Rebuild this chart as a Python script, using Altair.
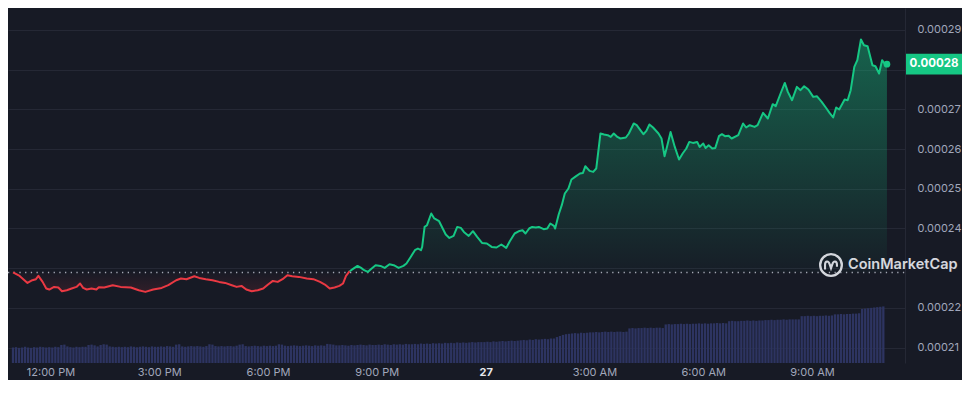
import altair as alt
import pandas as pd

START = "2024-04-26 10:58"

# price series: minutes after START, price (USD)
price_minutes = [
    0, 11, 24, 32, 38, 42, 49, 55, 60, 68, 75, 81, 89, 97, 105, 111, 116, 122, 130, 138,
    142, 151, 165, 178, 195, 208, 219, 232, 246, 257, 270, 278, 287, 300, 308, 319, 330, 341, 351, 362,
    370, 378, 386, 395, 405, 414, 422, 430, 438, 446, 454, 462, 473, 486, 497, 508, 516, 524, 532, 540,
    546, 551, 557, 562, 570, 576, 581, 587, 592, 600, 608, 615, 623, 630, 638, 646, 651, 658, 665, 670,
    675, 677, 681, 685, 692, 697, 705, 711, 716, 722, 729, 735, 741, 746, 754, 761, 768, 776, 784, 792,
    800, 808, 816, 822, 830, 838, 843, 848, 854, 859, 865, 870, 878, 884, 889, 895, 897, 903, 908, 913,
    919, 924, 930, 938, 943, 947, 954, 960, 965, 972, 978, 984, 989, 994, 1000, 1005, 1014, 1019, 1027, 1032,
    1038, 1043, 1048, 1053, 1059, 1068, 1073, 1078, 1082, 1088, 1095, 1102, 1108, 1114, 1119, 1125, 1132, 1136, 1142, 1146,
    1151, 1157, 1162, 1168, 1173, 1178, 1184, 1189, 1200, 1208, 1213, 1219, 1227, 1232, 1241, 1249, 1257, 1262, 1270, 1277,
    1282, 1289, 1297, 1303, 1309, 1316, 1324, 1330, 1338, 1346, 1351, 1357, 1362, 1367, 1376, 1381, 1386, 1392, 1397, 1403,
    1408, 1414, 1422, 1427, 1433, 1438, 1442, 1446,
]
price_values = [
    0.00022892, 0.00022806, 0.00022629, 0.00022697, 0.00022723, 0.00022806, 0.00022655, 0.00022488, 0.00022463, 0.00022529,
    0.00022514, 0.00022420, 0.00022446, 0.00022488, 0.00022529, 0.00022614, 0.00022503, 0.00022463, 0.00022488, 0.00022463,
    0.00022521, 0.00022514, 0.00022572, 0.00022529, 0.00022514, 0.00022446, 0.00022403, 0.00022463, 0.00022503, 0.00022572,
    0.00022697, 0.00022740, 0.00022723, 0.00022798, 0.00022755, 0.00022723, 0.00022697, 0.00022655, 0.00022629, 0.00022572,
    0.00022529, 0.00022554, 0.00022463, 0.00022420, 0.00022446, 0.00022488, 0.00022589, 0.00022680, 0.00022655, 0.00022723,
    0.00022823, 0.00022798, 0.00022781, 0.00022740, 0.00022723, 0.00022655, 0.00022589, 0.00022488, 0.00022514, 0.00022554,
    0.00022614, 0.00022806, 0.00022924, 0.00022975, 0.00023058, 0.00023007, 0.00022949, 0.00022906, 0.00022975, 0.00023075,
    0.00023058, 0.00023007, 0.00023100, 0.00023075, 0.00023007, 0.00023058, 0.00023118, 0.00023284, 0.00023453, 0.00023496,
    0.00023453, 0.00023536, 0.00024040, 0.00024083, 0.00024378, 0.00024252, 0.00024184, 0.00024000, 0.00023849, 0.00023763,
    0.00023813, 0.00024040, 0.00024015, 0.00023914, 0.00023813, 0.00023932, 0.00023788, 0.00023637, 0.00023622, 0.00023536,
    0.00023521, 0.00023597, 0.00023511, 0.00023680, 0.00023874, 0.00023939, 0.00023957, 0.00023874, 0.00024000, 0.00024040,
    0.00024025, 0.00024040, 0.00023982, 0.00024000, 0.00024126, 0.00024065, 0.00024000, 0.00024360, 0.00024587, 0.00024881,
    0.00025007, 0.00025234, 0.00025300, 0.00025385, 0.00025400, 0.00025569, 0.00025451, 0.00025426, 0.00025511, 0.00026393,
    0.00026368, 0.00026350, 0.00026307, 0.00026393, 0.00026307, 0.00026267, 0.00026292, 0.00026393, 0.00026645, 0.00026602,
    0.00026476, 0.00026375, 0.00026458, 0.00026620, 0.00026544, 0.00026393, 0.00026267, 0.00025821, 0.00026055, 0.00026433,
    0.00026055, 0.00025738, 0.00025889, 0.00026015, 0.00026181, 0.00026156, 0.00026181, 0.00026055, 0.00026141, 0.00026030,
    0.00026098, 0.00026015, 0.00026030, 0.00026325, 0.00026375, 0.00026325, 0.00026337, 0.00026267, 0.00026350, 0.00026645,
    0.00026544, 0.00026602, 0.00026559, 0.00026602, 0.00026912, 0.00026771, 0.00027131, 0.00027081, 0.00027400, 0.00027667,
    0.00027441, 0.00027232, 0.00027567, 0.00027484, 0.00027584, 0.00027501, 0.00027315, 0.00027332, 0.00027189, 0.00027023,
    0.00026912, 0.00026796, 0.00027048, 0.00026997, 0.00027249, 0.00027232, 0.00027484, 0.00028071, 0.00028239, 0.00028761,
    0.00028617, 0.00028592, 0.00028113, 0.00028088, 0.00027904, 0.00028239, 0.00028156, 0.00028139,
]

# volume bars, one per 5 minutes (arbitrary units)
vol_values = [
    43, 44, 42, 43, 45, 43, 42, 44, 43, 45, 44, 43,
    44, 43, 45, 44, 50, 51, 46, 44, 43, 45, 44, 45,
    45, 50, 51, 49, 46, 50, 52, 51, 46, 45, 44, 45,
    44, 45, 44, 46, 45, 44, 45, 46, 45, 44, 46, 45,
    45, 46, 45, 47, 46, 45, 51, 52, 46, 45, 46, 47,
    46, 47, 46, 45, 47, 52, 51, 47, 46, 47, 46, 47,
    47, 46, 48, 51, 52, 47, 46, 47, 48, 47, 46, 48,
    47, 48, 47, 48, 52, 51, 48, 47, 48, 49, 48, 47,
    48, 49, 48, 47, 49, 48, 49, 48, 53, 52, 51, 49,
    49, 50, 49, 48, 50, 49, 50, 51, 50, 49, 51, 50,
    50, 51, 50, 52, 51, 50, 52, 51, 52, 51, 53, 52,
    52, 53, 52, 54, 53, 54, 53, 55, 54, 55, 54, 56,
    55, 56, 55, 57, 56, 57, 56, 57, 58, 57, 58, 58,
    58, 59, 58, 60, 59, 60, 61, 60, 61, 62, 61, 62,
    63, 64, 63, 65, 64, 66, 65, 66, 67, 66, 68, 68,
    72, 75, 78, 80, 81, 82, 83, 82, 84, 83, 84, 85,
    85, 86, 85, 86, 87, 86, 87, 86, 87, 87, 86, 87,
    96, 97, 96, 97, 97, 98, 97, 98, 97, 98, 98, 97,
    107, 108, 107, 108, 108, 109, 108, 109, 108, 109, 109, 110,
    109, 110, 109, 110, 110, 111, 110, 111, 110, 116, 117, 116,
    116, 117, 117, 118, 117, 118, 117, 118, 118, 119, 119, 120,
    119, 120, 120, 121, 120, 121, 121, 121, 121, 130, 130, 131,
    130, 131, 130, 131, 131, 132, 131, 132, 135, 135, 136, 135,
    136, 136, 137, 137, 138, 150, 151, 152, 153, 154, 155, 156,
    157,
]
vol_minutes = list(range(0, 5 * len(vol_values), 5))

y_ticks = [0.00021, 0.00022, 0.00023, 0.00024, 0.00025, 0.00026, 0.00027, 0.00028, 0.00029]
x_ticks = [
    alt.DateTime(year=2024, month=4, date=26, hours=12),
    alt.DateTime(year=2024, month=4, date=26, hours=15),
    alt.DateTime(year=2024, month=4, date=26, hours=18),
    alt.DateTime(year=2024, month=4, date=26, hours=21),
    alt.DateTime(year=2024, month=4, date=27, hours=0),
    alt.DateTime(year=2024, month=4, date=27, hours=3),
    alt.DateTime(year=2024, month=4, date=27, hours=6),
    alt.DateTime(year=2024, month=4, date=27, hours=9),
]
x_domain = [
    alt.DateTime(year=2024, month=4, date=26, hours=10, minutes=58),
    alt.DateTime(year=2024, month=4, date=27, hours=11, minutes=25, seconds=36),
]
y_domain = [0.00020612, 0.00029554]

# ---------------- tables ----------------
t0 = pd.Timestamp(START)
price = pd.DataFrame({
    "t": t0 + pd.to_timedelta(price_minutes, unit="min"),
    "price": price_values,
})
baseline = price_values[0]
cross = next(i for i in range(1, len(price_values)) if price_values[i] >= baseline)
red = price.iloc[: cross + 1]
green = price.iloc[cross:]
last = price.iloc[[-1]]
vol = pd.DataFrame({"t": t0 + pd.to_timedelta(vol_minutes, unit="min"), "vol": vol_values})
base_df = pd.DataFrame({"b": [baseline]})
logo_df = pd.DataFrame({"label": ["CoinMarketCap"]})

W, H = 897, 355
GREEN, RED = "#16c784", "#ea3943"
BG = "#171a25"
GRID = "#252835"
LABEL = "#a1a7bb"
FONT = "Inter"

xs = alt.Scale(domain=x_domain)
ys = alt.Scale(domain=y_domain, zero=False, nice=False)

x_axis = alt.Axis(
    values=x_ticks,
    labelExpr="hours(datum.value) === 0 ? timeFormat(datum.value, '%-d') : timeFormat(datum.value, '%-I:%M %p')",
    grid=False, domain=False, ticks=False, title=None,
    labelFont=FONT, labelFontSize=11, labelPadding=3, labelFlush=False,
    labelColor={"condition": {"test": "hours(datum.value) === 0", "value": "#e6e8ee"}, "value": LABEL},
    labelFontWeight={"condition": {"test": "hours(datum.value) === 0", "value": "bold"}, "value": "normal"},
)
y_axis = alt.Axis(
    orient="right", values=y_ticks, title=None, ticks=False,
    domain=True, domainColor=GRID, grid=True, gridColor=GRID, gridWidth=1,
    labelFont=FONT, labelFontSize=11, labelColor=LABEL, labelPadding=12, labelAlign="left",
    labelExpr="(abs(datum.value - 0.00023) < 1e-9 || abs(datum.value - 0.00028) < 1e-9) ? '' : format(datum.value, '.5f')",
)

X = alt.X("t:T", scale=xs, axis=x_axis)

green_grad = alt.Gradient(
    gradient="linear",
    stops=[alt.GradientStop(color="rgba(22,199,132,0.42)", offset=0),
           alt.GradientStop(color="rgba(22,199,132,0.02)", offset=1)],
    x1=1, x2=1, y1=0, y2=1,
)
red_grad = alt.Gradient(
    gradient="linear",
    stops=[alt.GradientStop(color="rgba(234,57,67,0.0)", offset=0),
           alt.GradientStop(color="rgba(234,57,67,0.12)", offset=1)],
    x1=1, x2=1, y1=0, y2=1,
)

volume = alt.Chart(vol).mark_bar(size=2.3, color="#2d3461").encode(
    x=X,
    y=alt.Y("vol:Q", scale=alt.Scale(domain=[0, 985]), axis=None),
)

grid_layer = alt.Chart(base_df).mark_rule(opacity=0).encode(
    y=alt.Y("b:Q", scale=ys, axis=y_axis),
)
green_area = alt.Chart(green).mark_area(color=green_grad).encode(
    x=X, y=alt.Y("price:Q", scale=ys), y2=alt.datum(baseline))
red_area = alt.Chart(red).mark_area(color=red_grad).encode(
    x=X, y=alt.Y("price:Q", scale=ys), y2=alt.datum(baseline))
base_rule = alt.Chart(base_df).mark_rule(
    color="#c8ccd8", strokeDash=[1.3, 4.4], strokeWidth=1.3, opacity=0.8
).encode(y=alt.Y("b:Q", scale=ys), x=alt.value(0), x2=alt.value(W))
red_line = alt.Chart(red).mark_line(color=RED, strokeWidth=2, strokeJoin="round").encode(
    x=X, y=alt.Y("price:Q", scale=ys))
green_line = alt.Chart(green).mark_line(color=GREEN, strokeWidth=2, strokeJoin="round").encode(
    x=X, y=alt.Y("price:Q", scale=ys))
end_dot = alt.Chart(last).mark_point(filled=True, size=45, color=GREEN, opacity=1).encode(
    x=X, y=alt.Y("price:Q", scale=ys))

TAG_X = 926
tag_shape = "M-1,-0.37L1,-0.37L1,0.37L-1,0.37Z"
tag_bg = alt.Chart(last).mark_point(
    shape=tag_shape, size=3136, filled=True, color=GREEN, opacity=1, strokeWidth=0
).encode(x=alt.value(TAG_X), y=alt.Y("price:Q", scale=ys))
tag_text = alt.Chart(last).mark_text(
    font=FONT, fontSize=11.5, fontWeight="bold", color="white", align="center", baseline="middle"
).encode(x=alt.value(TAG_X), y=alt.Y("price:Q", scale=ys), text=alt.Text("price:Q", format=".5f"))

LOGO_X, LOGO_Y = 823, 257
ring = alt.Chart(logo_df).mark_point(
    shape="circle", size=470, filled=False, strokeWidth=2.3, color="#e4e6ec", opacity=0.92
).encode(x=alt.value(LOGO_X), y=alt.value(LOGO_Y))
m_path = "M-0.55,0.42L-0.55,0C-0.55,-0.42,-0.22,-0.42,-0.12,-0.05L0,0.3L0.12,-0.05C0.22,-0.42,0.55,-0.42,0.55,0L0.55,0.15"
m_glyph = alt.Chart(logo_df).mark_point(
    shape=m_path, size=470, filled=False, strokeWidth=2.1, color="#e4e6ec", opacity=0.92
).encode(x=alt.value(LOGO_X), y=alt.value(LOGO_Y))
logo_text = alt.Chart(logo_df).mark_text(
    font=FONT, fontSize=14.5, fontWeight=600, color="#e6e8ee", opacity=0.92, align="left", baseline="middle"
).encode(x=alt.value(LOGO_X + 17), y=alt.value(LOGO_Y), text="label:N")

price_layers = alt.layer(
    grid_layer, green_area, red_area, base_rule, red_line, green_line, end_dot,
    tag_bg, tag_text, ring, m_glyph, logo_text,
)

chart = (
    alt.layer(volume, price_layers)
    .resolve_scale(y="independent")
    .properties(
        width=W, height=H,
        autosize=alt.AutoSizeParams(type="none"),
        padding={"left": 0, "top": 0, "right": 57, "bottom": 17},
        background=BG,
    )
    .configure_view(stroke=None)
)

chart.save("out.html", embed_options={"renderer": "svg", "actions": False})
